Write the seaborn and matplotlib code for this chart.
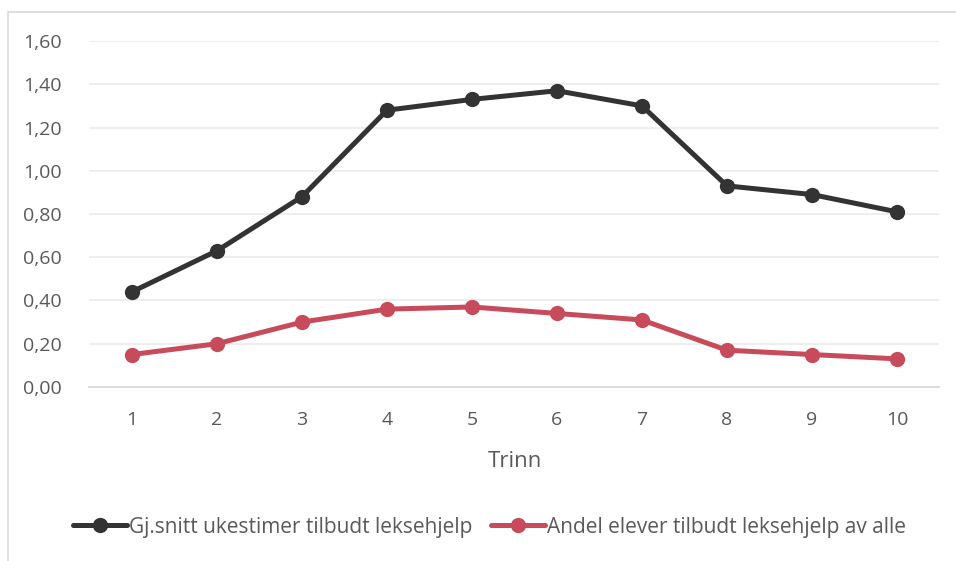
import matplotlib
matplotlib.use("Agg")
import matplotlib.pyplot as plt
import seaborn as sns
import pandas as pd
from matplotlib.ticker import FuncFormatter
from matplotlib.patches import Rectangle
from matplotlib.lines import Line2D

# Data
trinn = [1, 2, 3, 4, 5, 6, 7, 8, 9, 10]
ukestimer = [0.44, 0.63, 0.88, 1.28, 1.33, 1.37, 1.30, 0.93, 0.89, 0.81]
andel = [0.15, 0.20, 0.30, 0.36, 0.37, 0.34, 0.31, 0.17, 0.15, 0.13]
serie_navn = ["Gj.snitt ukestimer tilbudt leksehjelp", "Andel elever tilbudt leksehjelp av alle"]
farger = ["#333333", "#C84B5B"]

df = pd.DataFrame({"Trinn": trinn * 2,
                   "verdi": ukestimer + andel,
                   "serie": [serie_navn[0]] * len(trinn) + [serie_navn[1]] * len(trinn)})

sns.set_style("white")
plt.rcParams["font.family"] = ["Open Sans", "DejaVu Sans"]
tekst = "#595959"

fig = plt.figure(figsize=(9.56, 5.61), dpi=100)
ax = fig.add_axes([0.0936, 0.3102, 0.8891, 0.6167])

sns.lineplot(data=df, x="Trinn", y="verdi", hue="serie", palette=farger,
             marker="o", markersize=11, linewidth=3.6, markeredgewidth=0,
             ax=ax, legend=False)

ax.set_xlim(0.5, 10.5)
ax.set_ylim(0, 1.6)
ax.set_xticks(trinn)
ax.set_yticks([i * 0.2 for i in range(9)])
ax.yaxis.set_major_formatter(FuncFormatter(lambda v, p: f"{v:.2f}".replace(".", ",")))
ax.grid(axis="y", color="#EBEBEB", linewidth=1.2)
ax.set_axisbelow(True)
for s in ["top", "right", "left"]:
    ax.spines[s].set_visible(False)
ax.spines["bottom"].set_color("#D9D9D9")
ax.spines["bottom"].set_linewidth(1.3)
ax.tick_params(axis="both", length=0, labelsize=14, labelcolor=tekst)
ax.tick_params(axis="x", pad=17)
ax.tick_params(axis="y", pad=20)
ax.set_xlabel("Trinn", fontsize=16, color=tekst, labelpad=16)
ax.set_ylabel("")

handles = [Line2D([], [], color=c, marker="o", markersize=11, linewidth=3.6,
                  markeredgewidth=0) for c in farger]
leg = fig.legend(handles, serie_navn, loc="center", bbox_to_anchor=(0.512, 1 - 527 / 561),
                 ncol=2, frameon=False, fontsize=15, handlelength=2.6,
                 handletextpad=0.1, columnspacing=0.9, labelcolor=tekst)

fig.patches.append(Rectangle((8 / 956, -0.1), 1, 1.1 - 12 / 561, transform=fig.transFigure,
                             fill=False, edgecolor="#D9D9D9", linewidth=1.2))

fig.savefig("out.png", dpi=100)
